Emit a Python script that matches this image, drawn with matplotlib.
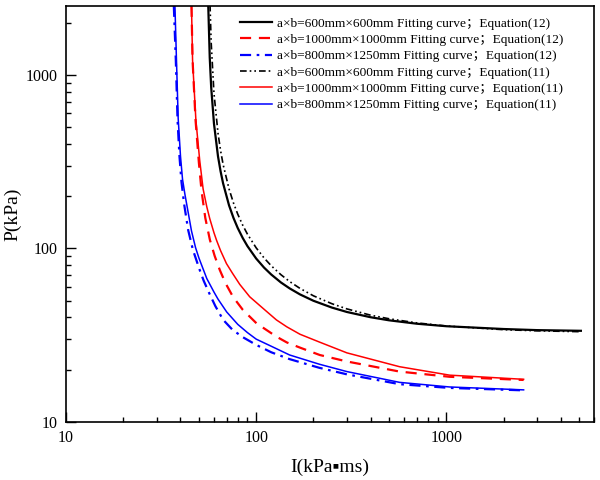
import matplotlib
matplotlib.use("Agg")
import matplotlib.pyplot as plt
from matplotlib import ticker

plt.rcParams['font.family'] = ['Liberation Serif', 'DejaVu Serif', 'Noto Sans CJK SC']

# eq(12), a x b = 600 x 600
I_600_12 = [56, 57, 58, 60, 63, 65, 67, 72, 76, 80, 85, 90, 100, 110, 120, 135, 150, 170, 200, 250,
            300, 400, 500, 700, 1000, 2000, 3000, 5100]
P_600_12 = [2483, 1258, 850, 523, 339, 278, 237, 177, 149.7, 131, 114.7, 103, 87.4, 77.5, 70.7, 63.6,
            58.8, 54.3, 49.9, 45.6, 43.0, 40.1, 38.5, 36.8, 35.6, 34.3, 33.8, 33.5]

# eq(11), a x b = 600 x 600
I_600_11 = [57.2, 58, 60, 63, 65, 67, 72, 76, 80, 85, 90, 100, 110, 120, 135, 150, 170, 200, 250,
            300, 400, 500, 700, 1000, 2000, 3000, 5100]
P_600_11 = [2532, 1532, 782, 461, 365.8, 305, 220, 182.5, 157.5, 135.9, 120.7, 100.7, 88.1, 79.4, 70.5,
            64.4, 58.8, 53.3, 48.0, 44.8, 41.2, 39.3, 37.2, 35.7, 34.0, 33.5, 33.1]

# eq(12), 1000 x 1000
I_1000_12 = [45.7, 46.3, 48.0, 50, 51.6, 54, 57.1, 60.5, 64.4, 69, 75.6, 85, 100.4, 115, 127.8, 145,
             170, 216, 300, 568, 1040, 2550]
P_1000_12 = [2500, 1214, 548, 310, 215, 150, 112, 90.5, 75, 63, 52.5, 44.3, 37.0, 33.5, 31.0, 28.7,
             26.8, 24.3, 22.3, 19.5, 18.2, 17.45]

# eq(11), 1000 x 1000
I_1000_11 = [45.7, 46.3, 48.2, 50.5, 52.6, 55, 57, 60, 62, 65, 69.8, 75, 82, 92.5, 110, 127.8, 145,
             170, 216, 300, 568, 1040, 2550]
P_1000_11 = [2500, 1214, 548, 320, 220, 173.6, 148.5, 123, 110.8, 97, 81.7, 72, 62, 52.6, 44.6, 38.7,
             35.3, 32.0, 28.8, 25.0, 20.8, 18.6, 17.6]

# eq(12), 800 x 1250
I_800_12 = [36.9, 37.8, 38.6, 39.5, 40.5, 41.8, 43.9, 46.5, 50.5, 53, 56.6, 61, 67, 75, 85, 100, 120,
            150, 215, 300, 568, 1040, 2550]
P_800_12 = [2500, 1214, 548, 340, 240, 180, 127.5, 98, 75, 65, 55.3, 46.5, 38.8, 34.0, 30.8, 27.8,
            25.2, 23.0, 20.5, 18.8, 16.5, 15.7, 15.2]

# eq(11), 800 x 1250
I_800_11 = [37.4, 38.1, 38.9, 40, 41, 42.2, 45.7, 48, 50, 55, 60, 63, 70, 80, 90, 100, 120, 150, 215,
            300, 568, 1040, 2550]
P_800_11 = [2500, 1214, 560, 340, 250, 205, 126, 101, 88, 67, 56, 51, 43, 36.5, 32.7, 30, 27.3, 24.3,
            21.5, 19.5, 16.9, 15.9, 15.3]

fig = plt.figure(figsize=(6, 4.8), dpi=100)
ax = fig.add_axes([0.11, 0.121, 0.8805, 0.867])

ax.plot(I_600_12, P_600_12, color='black', lw=1.6, ls='-',
        label='a×b=600mm×600mm Fitting curve；Equation(12)')
ax.plot(I_1000_12, P_1000_12, color='red', lw=1.6, ls=(0, (5, 3.5)),
        label='a×b=1000mm×1000mm Fitting curve；Equation(12)')
ax.plot(I_800_12, P_800_12, color='blue', lw=1.6, ls=(0, (5, 2.5, 1.2, 2.5)),
        label='a×b=800mm×1250mm Fitting curve；Equation(12)')
ax.plot(I_600_11, P_600_11, color='black', lw=1.2, ls=(0, (4, 1.8, 1, 1.8, 1, 1.8)),
        label='a×b=600mm×600mm Fitting curve；Equation(11)')
ax.plot(I_1000_11, P_1000_11, color='red', lw=1.1, ls='-',
        label='a×b=1000mm×1000mm Fitting curve；Equation(11)')
ax.plot(I_800_11, P_800_11, color='blue', lw=1.1, ls='-',
        label='a×b=800mm×1250mm Fitting curve；Equation(11)')

ax.set_xscale('log')
ax.set_yscale('log')
ax.set_xlim(10, 6000)
ax.set_ylim(10, 2500)
ax.xaxis.set_major_formatter(ticker.FormatStrFormatter('%d'))
ax.yaxis.set_major_formatter(ticker.FormatStrFormatter('%d'))
ax.xaxis.set_minor_formatter(ticker.NullFormatter())
ax.yaxis.set_minor_formatter(ticker.NullFormatter())

ax.tick_params(which='both', direction='in', top=False, right=False, labelsize=11.5, pad=6)
ax.tick_params(which='major', length=7, width=1)
ax.tick_params(which='minor', length=3.5, width=1)
for s in ax.spines.values():
    s.set_linewidth(1.2)

ax.set_xlabel('I(kPa▪ms)', fontsize=14, labelpad=9,
              family=['Liberation Serif', 'DejaVu Sans'])
ax.set_ylabel('P(kPa)', fontsize=14, labelpad=3)

ax.legend(loc='upper left', bbox_to_anchor=(0.33, 0.972), frameon=False,
          handlelength=2.4, handletextpad=0.35, labelspacing=0.3,
          borderpad=0, borderaxespad=0,
          prop={'family': ['Liberation Serif', 'Noto Sans CJK SC'], 'size': 9.6})

fig.savefig('out.png', dpi=100)
